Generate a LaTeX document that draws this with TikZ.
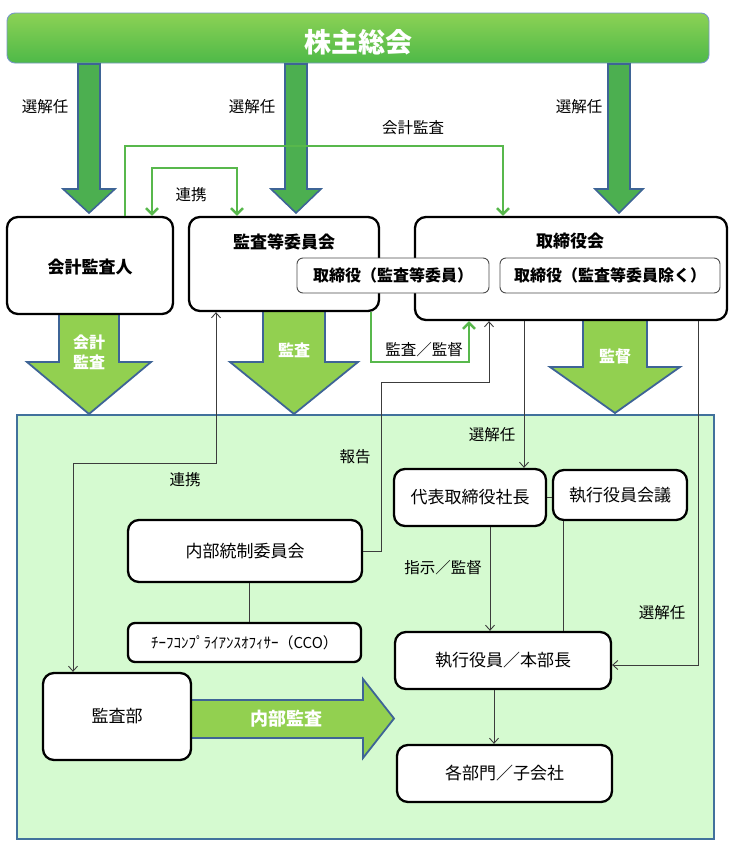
\documentclass[tikz,border=0pt]{standalone}
\usepackage{fontspec}
\setmainfont{Noto Sans CJK JP}
\usetikzlibrary{arrows.meta,calc}
\definecolor{topgreen}{RGB}{76,175,80}
\definecolor{midgreen}{RGB}{146,208,80}
\definecolor{arrowblue}{RGB}{62,100,150}
\definecolor{panelfill}{RGB}{213,250,208}
\definecolor{panelblue}{RGB}{65,113,156}
\definecolor{linegreen}{RGB}{88,184,76}
\definecolor{bannertop}{RGB}{140,210,85}
\definecolor{bannerbot}{RGB}{78,185,72}
\definecolor{bannerborder}{RGB}{120,150,200}
\definecolor{darkline}{RGB}{60,60,60}
\newcommand\dnarrow[7]{%
  \path[#1] ({#2-#6},#3) -- ({#2+#6},#3) -- ({#2+#6},#4) -- ({#2+#7},#4) -- (#2,#5)
    -- ({#2-#7},#4) -- ({#2-#6},#4) -- cycle;}
\tikzset{
  box/.style={draw=black, line width=2.3pt, rounded corners=11pt, fill=white, inner sep=0pt, align=center},
  subbox/.style={draw=black!70, line width=0.9pt, rounded corners=6pt, fill=white, inner sep=0pt,
     font=\fontsize{16}{19}\selectfont\bfseries},
  ttl/.style={font=\fontsize{17}{20}\selectfont\bfseries, inner sep=0pt},
  txt/.style={font=\fontsize{17}{20}\selectfont},
  lbl/.style={font=\fontsize{15.5}{18}\selectfont, inner sep=1pt},
  gline/.style={draw=linegreen, line width=2.4pt},
  gtip/.style={-{Straight Barb[length=6pt,width=12pt]}},
  gboth/.style={{Straight Barb[length=6pt,width=12pt]}-{Straight Barb[length=6pt,width=12pt]}},
  bline/.style={draw=darkline, line width=0.9pt},
  btip/.style={-{Straight Barb[length=5pt,width=9pt]}},
  bboth/.style={{Straight Barb[length=5pt,width=9pt]}-{Straight Barb[length=5pt,width=9pt]}},
  toparrow/.style={fill=topgreen, draw=arrowblue, line width=1.6pt, line join=miter},
  midarrow/.style={fill=midgreen, draw=arrowblue, line width=1.8pt, line join=miter},
  wtxt/.style={text=white, font=\fontsize{16}{19}\selectfont\bfseries, align=center, inner sep=0pt},
}
\begin{document}
\begin{tikzpicture}[x=1pt,y=-1pt]
\useasboundingbox (0,0) rectangle (730,868);

% lower panel
\node[draw=panelblue, fill=panelfill, line width=1.6pt, minimum width=697pt, minimum height=424pt, inner sep=0pt] (panel) at (365.5,627) {};

% banner
\node[draw=bannerborder, line width=0.9pt, top color=bannertop, bottom color=bannerbot, rounded corners=8pt,
  minimum width=702pt, minimum height=50pt, inner sep=0pt] (gm) at (358,38) {};
\node[text=white, font=\fontsize{27}{30}\selectfont\bfseries] (gmt) at (358,42) {株主総会};

% top arrows
\dnarrow{toparrow}{89}{64}{189}{213}{11}{26}
\dnarrow{toparrow}{296}{64}{189}{213}{11}{25}
\dnarrow{toparrow}{619}{64}{189}{213}{11}{24}

% middle arrows
\dnarrow{midarrow}{89}{312}{362}{414}{30}{62}
\dnarrow{midarrow}{294}{310}{362}{414}{31}{64}
\dnarrow{midarrow}{615}{319}{367}{413}{32}{65}
% internal audit arrow (right)
\path[midarrow] (191,700) -- (363,700) -- (363,679) -- (394,718.5) -- (363,758) -- (363,738) -- (191,738) -- cycle;

% top boxes
\node[box, minimum width=166pt, minimum height=97pt] (acc) at (90,265.5) {};
\node[ttl] at (90,267) {会計監査人};
\node[box, minimum width=190pt, minimum height=94pt] (ac) at (284,264) {};
\node[ttl] at (284,242) {監査等委員会};
\node[box, minimum width=312pt, minimum height=103pt] (bd) at (571,268.5) {};
\node[ttl] at (570,241) {取締役会};
\node[subbox, minimum width=192pt, minimum height=35pt] (dir1) at (393,275.5) {取締役（監査等委員）};
\node[subbox, minimum width=220pt, minimum height=35pt] (dir2) at (610,275.5) {取締役（監査等委員除く）};

% lower boxes
\node[box, txt, minimum width=152pt, minimum height=57pt] (pres) at (470,497.5) {代表取締役社長};
\node[box, txt, minimum width=134pt, minimum height=50pt] (ecm) at (620,495) {執行役員会議};
\node[box, txt, minimum width=234pt, minimum height=62pt] (icc) at (245,551) {内部統制委員会};
\node[box, minimum width=233pt, minimum height=39pt, rounded corners=7pt,
  font=\fontsize{15}{18}\selectfont] (cco) at (244.5,642.5) {ﾁｰﾌｺﾝﾌﾟﾗｲｱﾝｽｵﾌｨｻｰ（CCO）};
\node[box, txt, minimum width=216pt, minimum height=57pt] (exe) at (503,660.5) {執行役員／本部長};
\node[box, txt, minimum width=148pt, minimum height=87pt] (aud) at (117,716.5) {監査部};
\node[box, txt, minimum width=215pt, minimum height=57pt] (dept) at (504.5,773.5) {各部門／子会社};

% white arrow texts
\node[wtxt] at (89,352) {会計\\[1pt]監査};
\node[wtxt] at (294,350) {監査};
\node[wtxt] at (615,356) {監督};
\node[wtxt, font=\fontsize{18}{20}\selectfont\bfseries] at (286,719) {内部監査};

% coordinates for bends
\coordinate (ka1) at (125,146);
\coordinate (ka2) at (503,146);
\coordinate (rk1) at (152,168);
\coordinate (rk2) at (237,168);
\coordinate (km1) at (371,362);
\coordinate (km2) at (469,362);
\coordinate (rb1) at (216,463);
\coordinate (rb2) at (73,463);
\coordinate (hk1) at (381,382);
\coordinate (hk2) at (489,382);
\coordinate (sx) at (524,400);
\coordinate (sr1) at (698,665);
\coordinate (ev) at (563,600);
\coordinate (pv) at (490,600);
\coordinate (dv) at (494,700);
\coordinate (cv) at (249,600);

% green connectors
\draw[gline, gtip] (acc.north -| ka1) -- (ka1) -- (ka2) -- (bd.north -| ka2);
\draw[gline, gboth] (acc.north -| rk1) -- (rk1) -- (rk2) -- (ac.north -| rk2);
\draw[gline, gtip] (ac.south -| km1) -- (km1) -- (km2) -- (bd.south -| km2);

% black connectors
\draw[bline, bboth] (ac.south -| rb1) -- (rb1) -- (rb2) -- (aud.north -| rb2);
\draw[bline, btip] (icc.east) -| (hk1) -- (hk2) -- (bd.south -| hk2);
\draw[bline, btip] (bd.south -| sx) -- (pres.north -| sx);
\draw[bline, btip] (bd.south -| sr1) -- (sr1) -- (sr1 -| exe.east);
\draw[bline] (pres.east) -- (pres.east -| ecm.west);
\draw[bline] (ecm.south -| ev) -- (exe.north -| ev);
\draw[bline, btip] (pres.south -| pv) -- (exe.north -| pv);
\draw[bline, btip] (exe.south -| dv) -- (dept.north -| dv);
\draw[bline] (icc.south -| cv) -- (cco.north -| cv);

% labels
\node[lbl] (l1) at (45,107) {選解任};
\node[lbl] (l2) at (252,107) {選解任};
\node[lbl] (l3) at (579,107) {選解任};
\node[lbl] (l4) at (413,128) {会計監査};
\node[lbl] (l5) at (191,195) {連携};
\node[lbl] (l6) at (424,350) {監査／監督};
\node[lbl] (l7) at (185,480) {連携};
\node[lbl] (l8) at (355,457) {報告};
\node[lbl] (l9) at (492,435) {選解任};
\node[lbl] (l10) at (443,568) {指示／監督};
\node[lbl] (l11) at (662,613) {選解任};
\end{tikzpicture}
\end{document}
